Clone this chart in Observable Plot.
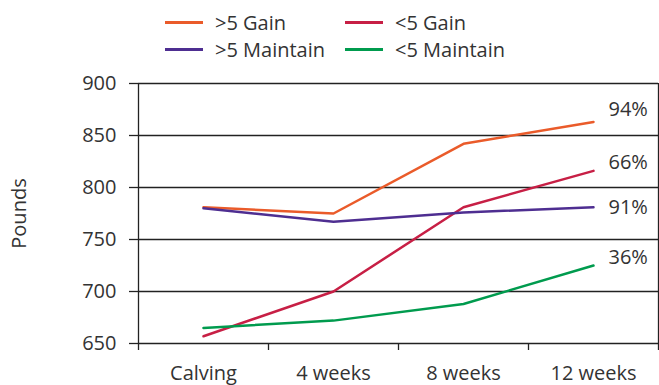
<!DOCTYPE html>
<html>
<head>
<meta charset="utf-8">
<script src="https://cdn.jsdelivr.net/npm/d3@7"></script>
<script src="https://cdn.jsdelivr.net/npm/@observablehq/plot@0.6"></script>
<style>
  body { margin: 0; background: #fff; font-family: "Open Sans", sans-serif; color: #333; }
  #wrap { width: 659px; height: 385px; }
  #legend { position: relative; height: 70px; width: 659px; }
  .item { position: absolute; display: flex; align-items: center; font-size: 20px; height: 26px; }
  .swatch { width: 38px; height: 3px; margin-right: 12px; }
  svg { display: block; }
</style>
</head>
<body>
<div id="wrap">
  <div id="legend"></div>
  <div id="chart"></div>
</div>
<script>
// Time points after calving
const categories = ["Calving", "4 weeks", "8 weeks", "12 weeks"];

// Series names, colours and the share reached at 12 weeks
const seriesNames = [">5 Gain", "<5 Gain", ">5 Maintain", "<5 Maintain"];
const seriesColors = ["#ea5b2a", "#c71f45", "#4e2e91", "#009b4e"];
const finalPercent = ["94%", "66%", "91%", "36%"];

// Body weight, pounds
const gainAbove5 = [781, 775, 842, 863];
const gainBelow5 = [657, 700, 781, 816];
const maintainAbove5 = [780, 767, 776, 781];
const maintainBelow5 = [665, 672, 688, 725];

const yTicks = [650, 700, 750, 800, 850, 900];

const seriesValues = [gainAbove5, gainBelow5, maintainAbove5, maintainBelow5];
const rows = seriesValues.flatMap((vals, s) =>
  vals.map((v, i) => ({series: seriesNames[s], step: i, pounds: v}))
);
const lastRows = seriesValues.map((vals, s) => ({
  series: seriesNames[s], step: vals.length - 1, pounds: vals[vals.length - 1], pct: finalPercent[s]
}));

// vertical nudge of each end label so they don't sit on the lines
const labelShift = [-12, -8, 0, -8];

// Legend: two columns, two rows
const legendPos = [
  {left: 165, top: 9}, {left: 345, top: 9},
  {left: 165, top: 36}, {left: 345, top: 36}
];
const legend = document.getElementById("legend");
seriesNames.forEach((name, i) => {
  const it = document.createElement("div");
  it.className = "item";
  it.style.left = legendPos[i].left + "px";
  it.style.top = legendPos[i].top + "px";
  const sw = document.createElement("span");
  sw.className = "swatch";
  sw.style.background = seriesColors[i];
  const tx = document.createElement("span");
  tx.textContent = name;
  it.append(sw, tx);
  legend.append(it);
});

const ink = "#222";
const chart = Plot.plot({
  width: 659,
  height: 315,
  marginLeft: 138,
  marginRight: 1,
  marginTop: 13,
  marginBottom: 42,
  x: {domain: [-0.5, categories.length - 0.5]},
  y: {domain: [650, 900]},
  color: {domain: seriesNames, range: seriesColors},
  style: {fontFamily: "Open Sans, sans-serif", fontSize: "20px", color: "#333", background: "#fff"},
  marks: [
    Plot.ruleY(yTicks, {stroke: ink, strokeWidth: 1.3}),
    Plot.ruleX([-0.5, categories.length - 0.5], {stroke: ink, strokeWidth: 1.3}),
    Plot.axisY({
      ticks: yTicks, tickSize: 9, tickPadding: 13, stroke: ink, strokeWidth: 1.3,
      label: "Pounds", labelAnchor: "center", labelOffset: 127, labelArrow: "none"
    }),
    Plot.axisX({
      ticks: d3.range(-0.5, categories.length, 1), tickSize: 7, stroke: ink, strokeWidth: 1.3,
      tickFormat: () => "", label: null
    }),
    Plot.axisX({
      ticks: d3.range(categories.length), tickSize: 0, tickPadding: 22,
      tickFormat: (i) => categories[i], label: null
    }),
    Plot.line(rows, {x: "step", y: "pounds", z: "series", stroke: "series", strokeWidth: 2.5}),
    ...lastRows.map((r, i) =>
      Plot.text([r], {x: "step", y: "pounds", text: "pct", dx: 15, dy: labelShift[i], textAnchor: "start", fill: "#333"})
    )
  ]
});
document.getElementById("chart").append(chart);
</script>
</body>
</html>
